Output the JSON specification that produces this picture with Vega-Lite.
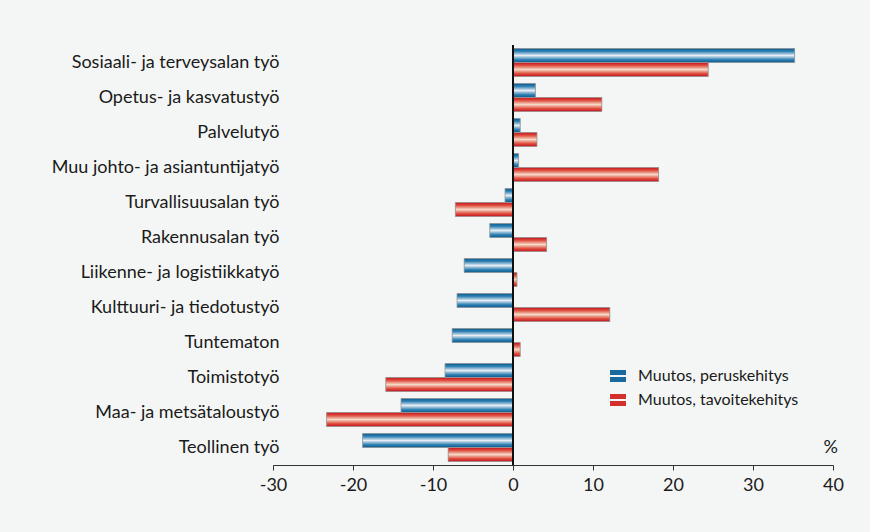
{
  "$schema": "https://vega.github.io/schema/vega-lite/v6.json",
  "autosize": {"type": "none"},
  "width": 560,
  "height": 420,
  "padding": {"left": 273, "top": 45, "right": 37, "bottom": 67},
  "background": "#f4f6f5",
  "config": {
    "view": {"stroke": null},
    "font": "Lato",
    "axis": {"labelFont": "Lato", "labelColor": "#1a1a1a", "grid": false}
  },
  "data": {
    "values": [
      {"ammatti": "Sosiaali- ja terveysalan työ", "sarja": "Muutos, peruskehitys", "muutos": 35.2},
      {"ammatti": "Sosiaali- ja terveysalan työ", "sarja": "Muutos, tavoitekehitys", "muutos": 24.4},
      {"ammatti": "Opetus- ja kasvatustyö", "sarja": "Muutos, peruskehitys", "muutos": 2.8},
      {"ammatti": "Opetus- ja kasvatustyö", "sarja": "Muutos, tavoitekehitys", "muutos": 11.1},
      {"ammatti": "Palvelutyö", "sarja": "Muutos, peruskehitys", "muutos": 0.9},
      {"ammatti": "Palvelutyö", "sarja": "Muutos, tavoitekehitys", "muutos": 3.0},
      {"ammatti": "Muu johto- ja asiantuntijatyö", "sarja": "Muutos, peruskehitys", "muutos": 0.7},
      {"ammatti": "Muu johto- ja asiantuntijatyö", "sarja": "Muutos, tavoitekehitys", "muutos": 18.2},
      {"ammatti": "Turvallisuusalan työ", "sarja": "Muutos, peruskehitys", "muutos": -1.0},
      {"ammatti": "Turvallisuusalan työ", "sarja": "Muutos, tavoitekehitys", "muutos": -7.2},
      {"ammatti": "Rakennusalan työ", "sarja": "Muutos, peruskehitys", "muutos": -2.9},
      {"ammatti": "Rakennusalan työ", "sarja": "Muutos, tavoitekehitys", "muutos": 4.2},
      {"ammatti": "Liikenne- ja logistiikkatyö", "sarja": "Muutos, peruskehitys", "muutos": -6.1},
      {"ammatti": "Liikenne- ja logistiikkatyö", "sarja": "Muutos, tavoitekehitys", "muutos": 0.5},
      {"ammatti": "Kulttuuri- ja tiedotustyö", "sarja": "Muutos, peruskehitys", "muutos": -7.0},
      {"ammatti": "Kulttuuri- ja tiedotustyö", "sarja": "Muutos, tavoitekehitys", "muutos": 12.1},
      {"ammatti": "Tuntematon", "sarja": "Muutos, peruskehitys", "muutos": -7.6},
      {"ammatti": "Tuntematon", "sarja": "Muutos, tavoitekehitys", "muutos": 0.9},
      {"ammatti": "Toimistotyö", "sarja": "Muutos, peruskehitys", "muutos": -8.5},
      {"ammatti": "Toimistotyö", "sarja": "Muutos, tavoitekehitys", "muutos": -15.9},
      {"ammatti": "Maa- ja metsätaloustyö", "sarja": "Muutos, peruskehitys", "muutos": -14.0},
      {"ammatti": "Maa- ja metsätaloustyö", "sarja": "Muutos, tavoitekehitys", "muutos": -23.3},
      {"ammatti": "Teollinen työ", "sarja": "Muutos, peruskehitys", "muutos": -18.8},
      {"ammatti": "Teollinen työ", "sarja": "Muutos, tavoitekehitys", "muutos": -8.1}
    ]
  },
  "encoding": {
    "y": {
      "field": "ammatti", "type": "nominal", "sort": null,
      "scale": {"paddingInner": 0.2, "paddingOuter": 0.1},
      "axis": {"title": null, "domain": false, "ticks": false, "labelPadding": -6, "labelFontSize": 18, "labelLimit": 400}
    },
    "yOffset": {"field": "sarja", "type": "nominal", "sort": null},
    "x": {
      "field": "muutos", "type": "quantitative",
      "scale": {"domain": [-30, 40], "nice": false},
      "axis": {"title": null, "values": [-30, -20, -10, 0, 10, 20, 30, 40], "labelExpr": "replace(datum.label, '\u2212', '-')", "domainColor": "#333", "tickColor": "#333", "tickSize": 5, "labelPadding": 6, "labelFontSize": 18, "labelFlush": false}
    }
  },
  "layer": [
    {
      "mark": {"type": "bar"},
      "encoding": {
        "color": {
          "field": "sarja", "type": "nominal", "sort": null,
          "scale": {"range": ["#1a6aa0", "#d2302c"]},
          "legend": {
            "title": null, "orient": "none", "legendX": 337, "legendY": 323,
            "symbolType": "M-1,-0.75H1V-0.12H-1Z M-1,0.12H1V0.75H-1Z",
            "symbolSize": 256, "symbolStrokeWidth": 0, "symbolOpacity": 1,
            "labelFontSize": 16, "labelColor": "#1a1a1a", "labelLimit": 300, "rowPadding": 8, "labelOffset": 12
          }
        }
      }
    },
    {
      "mark": {"type": "bar", "stroke": "#9a9a9a", "strokeWidth": 0.8},
      "encoding": {
        "color": {
          "condition": {
            "test": "datum.sarja === 'Muutos, peruskehitys'",
            "value": {"gradient": "linear", "x1": 0, "y1": 0, "x2": 0, "y2": 1, "stops": [
              {"offset": 0, "color": "#0b5c8e"}, {"offset": 0.2, "color": "#2d7fb2"}, {"offset": 0.5, "color": "#e6edf4"}, {"offset": 0.8, "color": "#2d7fb2"}, {"offset": 1, "color": "#0b5c8e"}]}
          },
          "value": {"gradient": "linear", "x1": 0, "y1": 0, "x2": 0, "y2": 1, "stops": [
            {"offset": 0, "color": "#c4161f"}, {"offset": 0.2, "color": "#de4a3c"}, {"offset": 0.5, "color": "#f6d9c6"}, {"offset": 0.8, "color": "#de4a3c"}, {"offset": 1, "color": "#c4161f"}]}
        }
      }
    },
    {
      "mark": {"type": "rule", "color": "#111", "strokeWidth": 1.2},
      "encoding": {"x": {"datum": 0}, "y": null, "yOffset": null}
    },
    {
      "transform": [{"filter": "datum.ammatti === 'Teollinen työ' && datum.sarja === 'Muutos, peruskehitys'"}],
      "mark": {"type": "text", "align": "right", "baseline": "middle", "fontSize": 18, "color": "#1a1a1a", "dx": 5},
      "encoding": {
        "x": {"datum": 40},
        "y": {"field": "ammatti", "type": "nominal", "sort": null},
        "yOffset": null,
        "text": {"value": "%"}
      }
    }
  ]
}
